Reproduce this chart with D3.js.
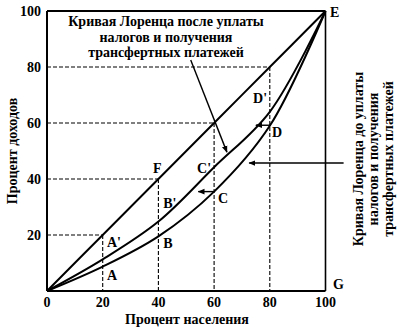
<!DOCTYPE html>
<html><head><meta charset="utf-8">
<script src="https://cdn.jsdelivr.net/npm/d3@7"></script>
<style>body{margin:0;background:#fff}svg{display:block}</style>
</head><body><svg id="c" width="399" height="330"></svg>
<script>
const population = [0, 20, 40, 60, 80, 100];
const incomeBefore = [0, 8.7, 19.5, 35.5, 59, 100];
const incomeAfter = [0, 11.3, 24.8, 44.2, 64, 100];
const equality = [0, 20, 40, 60, 80, 100];
const xTicks = [0, 20, 40, 60, 80, 100];
const yTicks = [20, 40, 60, 80, 100];
const guides = [20, 40, 60, 80];
const pointLabels = [
  {t: "A", x: 21.5, y: 4},
  {t: "A'", x: 21.5, y: 15.7},
  {t: "B", x: 41.7, y: 15.4},
  {t: "B'", x: 41.7, y: 29.6},
  {t: "C", x: 61.4, y: 31.4},
  {t: "C'", x: 53.9, y: 42.1},
  {t: "D", x: 80.8, y: 55},
  {t: "D'", x: 74, y: 67.1},
  {t: "F", x: 38.1, y: 42.1},
  {t: "E", x: 101.6, y: 97.9},
  {t: "G", x: 102.7, y: 0.7}
];
const titleLines = ["Кривая Лоренца после уплаты", "налогов и получения", "трансфертных платежей"];
const sideLines = ["Кривая Лоренца до уплаты", "налогов и получения", "трансфертных платежей"];

const svg = d3.select("#c");
const x = d3.scaleLinear().domain([0, 100]).range([47, 325.5]);
const y = d3.scaleLinear().domain([0, 100]).range([291, 11]);
const font = "'Liberation Serif', 'DejaVu Serif', serif";

svg.append("defs").append("marker").attr("id", "ah")
  .attr("viewBox", "0 0 10 10").attr("refX", 9).attr("refY", 5)
  .attr("markerWidth", 7).attr("markerHeight", 7).attr("orient", "auto-start-reverse")
  .attr("markerUnits", "userSpaceOnUse")
  .append("path").attr("d", "M0,1 L10,5 L0,9 Z").attr("fill", "#000");

// dashed guides
guides.forEach(v => {
  svg.append("line").attr("x1", x(0)).attr("x2", x(v)).attr("y1", y(v)).attr("y2", y(v))
    .attr("stroke", "#000").attr("stroke-width", 1.1).attr("stroke-dasharray", "4,2");
  svg.append("line").attr("x1", x(v)).attr("x2", x(v)).attr("y1", y(v)).attr("y2", y(0))
    .attr("stroke", "#000").attr("stroke-width", 1.1).attr("stroke-dasharray", "4,2");
});

// frame
svg.append("line").attr("x1", x(0)).attr("x2", x(100)).attr("y1", y(100)).attr("y2", y(100)).attr("stroke", "#000").attr("stroke-width", 2);
svg.append("line").attr("x1", x(100)).attr("x2", x(100)).attr("y1", y(100)).attr("y2", y(0)).attr("stroke", "#000").attr("stroke-width", 1.6);
svg.append("line").attr("x1", x(0)).attr("x2", x(100)).attr("y1", y(0)).attr("y2", y(0)).attr("stroke", "#000").attr("stroke-width", 2);
svg.append("line").attr("x1", x(0)).attr("x2", x(0)).attr("y1", y(100)).attr("y2", y(0)).attr("stroke", "#000").attr("stroke-width", 2);

// ticks
xTicks.forEach(v => {
  svg.append("text").attr("x", x(v)).attr("y", 307).attr("text-anchor", "middle")
    .attr("font-family", font).attr("font-weight", "bold").attr("font-size", 14).text(v);
});
yTicks.forEach(v => {
  svg.append("text").attr("x", 41).attr("y", y(v) + 5).attr("text-anchor", "end")
    .attr("font-family", font).attr("font-weight", "bold").attr("font-size", 14).text(v);
});

// curves
const line = d3.line().x((d, i) => x(population[i])).y(d => y(d)).curve(d3.curveCatmullRom.alpha(0.5));
[equality, incomeAfter, incomeBefore].forEach(s => {
  svg.append("path").attr("d", line(s)).attr("fill", "none").attr("stroke", "#000").attr("stroke-width", 2);
});

// arrows
const arrows = [
  {x1: 51.6, y1: 82.5, x2: 64.6, y2: 49.6},
  {x1: 60, y1: 35.5, x2: 54.3, y2: 35.5},
  {x1: 80, y1: 59.2, x2: 75, y2: 59.2},
  {x1: 106.5, y1: 45.7, x2: 72.6, y2: 45.7}
];
arrows.forEach(a => {
  svg.append("line").attr("x1", x(a.x1)).attr("y1", y(a.y1)).attr("x2", x(a.x2)).attr("y2", y(a.y2))
    .attr("stroke", "#000").attr("stroke-width", 1.4).attr("marker-end", "url(#ah)");
});

// point labels
pointLabels.forEach(p => {
  svg.append("text").attr("x", x(p.x)).attr("y", y(p.y))
    .attr("font-family", font).attr("font-weight", "bold").attr("font-size", 14).text(p.t);
});

// title
titleLines.forEach((t, i) => {
  svg.append("text").attr("x", 166).attr("y", 26 + i * 15.5).attr("text-anchor", "middle")
    .attr("font-family", font).attr("font-weight", "bold").attr("font-size", 14).text(t);
});

// side label
sideLines.forEach((t, i) => {
  svg.append("text").attr("transform", `translate(${363 + i * 15},159) rotate(-90)`).attr("text-anchor", "middle")
    .attr("font-family", font).attr("font-weight", "bold").attr("font-size", 14).text(t);
});

// axis titles
svg.append("text").attr("x", 187).attr("y", 324).attr("text-anchor", "middle")
  .attr("font-family", font).attr("font-weight", "bold").attr("font-size", 14).text("Процент населения");
svg.append("text").attr("transform", "translate(17,151) rotate(-90)").attr("text-anchor", "middle")
  .attr("font-family", font).attr("font-weight", "bold").attr("font-size", 14).text("Процент доходов");
</script></body></html>
